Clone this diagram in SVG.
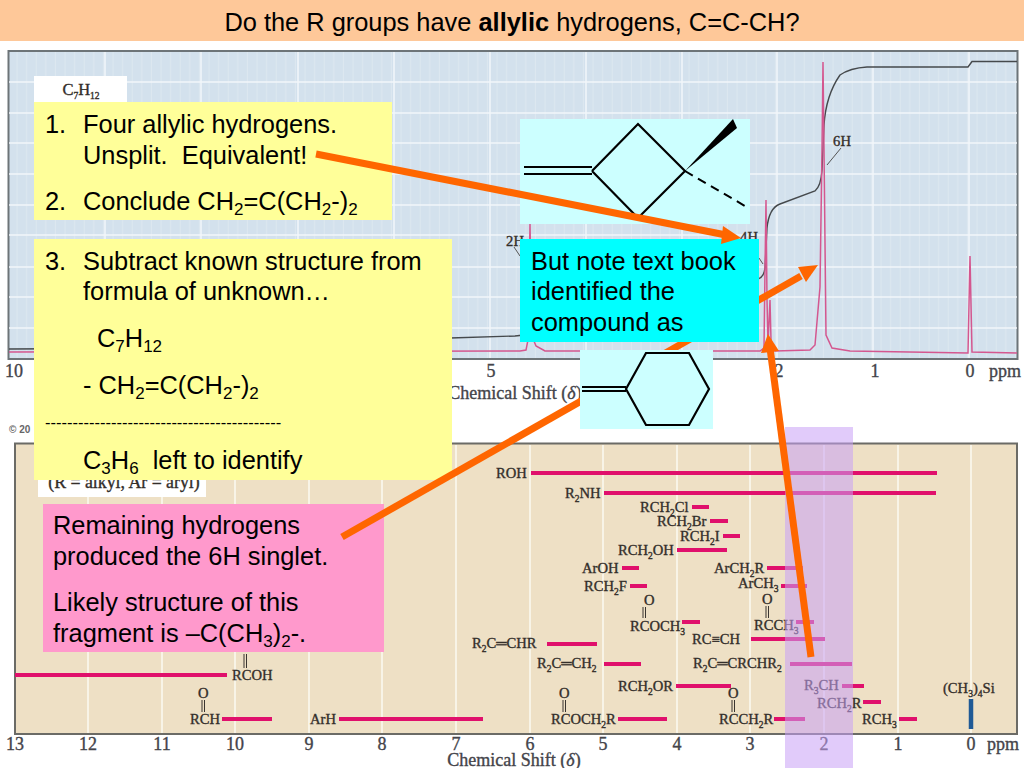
<svg xmlns="http://www.w3.org/2000/svg" width="1024" height="768" viewBox="0 0 1024 768">
<defs>
<style>
.n{font-family:"Liberation Sans",Arial,sans-serif;font-size:25.4px;fill:#000}
.n tspan.b{font-size:17px}
.s{font-family:"Liberation Serif","Times New Roman",serif;font-size:14.6px;fill:#332e2a;stroke:#332e2a;stroke-width:.35}
.s tspan.b{font-size:9.5px}
.ax{font-family:"Liberation Serif","Times New Roman",serif;font-size:18px;fill:#44444a;stroke:#44444a;stroke-width:.35}
.bar{stroke:#e0106c;stroke-width:4;fill:none}
.gl{stroke:#fbfaf2;stroke-width:1.5}
.gt{stroke:#f2f6fa;stroke-width:1.5}
.arrow{stroke:#ff6600;stroke-width:7;fill:none}
.head{fill:#ff6600}
.mol{stroke:#000;stroke-width:2.2;fill:none}
.dbl{stroke:#3a3530;fill:none}
</style>
<pattern id="minor" width="9.6" height="400" patternUnits="userSpaceOnUse" x="8">
<rect width="9.6" height="400" fill="#d3e1ed"/>
<line x1="9" y1="0" x2="9" y2="400" stroke="#dde8f1" stroke-width="1"/>
</pattern>
</defs>
<rect width="1024" height="768" fill="#fff"/>
<g id="title">
<rect x="0" y="0" width="1024" height="41" fill="#fec899"/>
<text x="512" y="31" text-anchor="middle" font-family="Liberation Sans,Arial,sans-serif" font-size="25.400" fill="#000">Do the R groups have <tspan font-weight="bold">allylic</tspan> hydrogens, C=C-CH?</text>
</g>
<g id="spectrum-top">
<rect x="8.500" y="51" width="1009" height="308" fill="url(#minor)" stroke="#6d7478" stroke-width="2"/>
<path class="gt" d="M105 52V358M201 52V358M298 52V358M394 52V358M490 52V358M586 52V358M682 52V358M777 52V358M873 52V358M969 52V358M9 82H1017M9 113H1017M9 143H1017M9 174H1017M9 205H1017M9 235H1017M9 267H1017M9 297H1017M9 328H1017"/>
<path d="M9 349 L200 348 L450 338 L515 336 L524 335 L530 326 L540 322 L600 318 L758 279 Q764 277 765 268 L767 228 Q769 208 780 204 L815 191 Q821 186 822 170 L824 125 Q826 95 840 75 Q850 68 867 67 L968 67 L972 61.500 L1017 61.500" fill="none" stroke="#45494c" stroke-width="1.400"/>
<path d="M9 352 L520 351 L526 350 L528 340 L530 224 L532 336 L536 346 L545 351 L760 351 L764 348 L765 270 L766 200 L767 300 L768 345 L770 300 L771 340 L775 351 L810 350 L815 345 L820 287 L822 150 L823 62 L824 150 L826 335 L832 348 L850 351 L968 353 L970 256 L972 352 L1017 353" fill="none" stroke="#d4578f" stroke-width="1.500"/>
<text class="ax" x="14" y="377" text-anchor="middle">10</text>
<text class="ax" x="491" y="377" text-anchor="middle">5</text>
<text class="ax" x="779" y="377" text-anchor="middle">2</text>
<text class="ax" x="875" y="377" text-anchor="middle">1</text>
<text class="ax" x="970" y="377" text-anchor="middle">0</text>
<text class="ax" x="1005" y="377" text-anchor="middle">ppm</text>
<text class="ax" x="515" y="399" text-anchor="middle">Chemical Shift (<tspan font-style="italic">δ</tspan>)</text>
<text class="s" x="515" y="246" text-anchor="middle">2H</text>
<text class="s" x="749" y="242" text-anchor="middle">4H</text>
<text class="s" x="842" y="146" text-anchor="middle">6H</text>
<path d="M514 247L520 256M759 258L763 264M827 165L841 148" stroke="#555" stroke-width="1" fill="none"/>
<rect x="34" y="76" width="93" height="30" fill="#fff"/>
<text class="s" x="81" y="95" text-anchor="middle" style="font-size:16.500px">C<tspan dy="4" class="b">7</tspan><tspan dy="-4">H</tspan><tspan dy="4" class="b">12</tspan></text>
<text x="9" y="433" font-family="Liberation Sans,Arial,sans-serif" font-size="10" font-weight="bold" fill="#666">© 20</text>
</g>
<g id="chart-bottom">
<rect x="15" y="443.500" width="1002" height="290.500" fill="#eee0c5" stroke="#6b6b66" stroke-width="2"/>
<path class="gl" d="M88 445V733M162 445V733M235 445V733M309 445V733M382 445V733M456 445V733M530 445V733M603 445V733M677 445V733M750 445V733M824 445V733M898 445V733M971 445V733"/>
<rect x="38" y="470" width="168" height="27" fill="#fff"/>
<text class="s" x="124" y="488" text-anchor="middle" style="font-size:17.800px">(R = alkyl, Ar = aryl)</text>
<g class="bars">
<path class="bar" d="M531 473H937M604 493H936M692 507H709M710 521H728M723 536H740M677 550H727M622 568H639M767 568H803M630 586H647M781 586H807M682 622H700M796 622H814M751 639H825M547 644H597M604 664H641M790 664H852M676 686H731M842 686H864M863 702H881M618 719H667M774 719H805M899 719H917M222 719H272M339 719H483M15 675H227"/>
<path d="M971 699V729" stroke="#1f5a96" stroke-width="4.500"/>
</g>
<g class="labels">
<text class="s" x="496" y="478">ROH</text>
<text class="s" x="565" y="498">R<tspan dy="4" class="b">2</tspan><tspan dy="-4">NH</tspan></text>
<text class="s" x="640" y="512">RCH<tspan dy="4" class="b">2</tspan><tspan dy="-4">Cl</tspan></text>
<text class="s" x="657" y="526">RCH<tspan dy="4" class="b">2</tspan><tspan dy="-4">Br</tspan></text>
<text class="s" x="680" y="541">RCH<tspan dy="4" class="b">2</tspan><tspan dy="-4">I</tspan></text>
<text class="s" x="618" y="555">RCH<tspan dy="4" class="b">2</tspan><tspan dy="-4">OH</tspan></text>
<text class="s" x="582" y="573">ArOH</text>
<text class="s" x="714" y="573">ArCH<tspan dy="4" class="b">2</tspan><tspan dy="-4">R</tspan></text>
<text class="s" x="584" y="591">RCH<tspan dy="4" class="b">2</tspan><tspan dy="-4">F</tspan></text>
<text class="s" x="738" y="588">ArCH<tspan dy="4" class="b">3</tspan></text>
<text class="s" x="644" y="605">O</text>
<path class="dbl" d="M643 607V618M645.500 607V618"/>
<text class="s" x="630" y="631">RCOCH<tspan dy="4" class="b">3</tspan></text>
<text class="s" x="762" y="604">O</text>
<path class="dbl" d="M766 606V618M768.500 606V618"/>
<text class="s" x="754" y="630">RCCH<tspan dy="4" class="b">3</tspan></text>
<text class="s" x="692" y="644">RC≡CH</text>
<text class="s" x="472" y="648">R<tspan dy="4" class="b">2</tspan><tspan dy="-4">C═CHR</tspan></text>
<text class="s" x="537" y="668">R<tspan dy="4" class="b">2</tspan><tspan dy="-4">C═CH</tspan><tspan dy="4" class="b">2</tspan></text>
<text class="s" x="693" y="668">R<tspan dy="4" class="b">2</tspan><tspan dy="-4">C═CRCHR</tspan><tspan dy="4" class="b">2</tspan></text>
<text class="s" x="618" y="691">RCH<tspan dy="4" class="b">2</tspan><tspan dy="-4">OR</tspan></text>
<text class="s" x="804" y="690">R<tspan dy="4" class="b">3</tspan><tspan dy="-4">CH</tspan></text>
<text class="s" x="817" y="708">RCH<tspan dy="4" class="b">2</tspan><tspan dy="-4">R</tspan></text>
<text class="s" x="943" y="693">(CH<tspan dy="4" class="b">3</tspan><tspan dy="-4">)</tspan><tspan dy="4" class="b">4</tspan><tspan dy="-4">Si</tspan></text>
<text class="s" x="862" y="724">RCH<tspan dy="4" class="b">3</tspan></text>
<text class="s" x="551" y="724">RCOCH<tspan dy="4" class="b">2</tspan><tspan dy="-4">R</tspan></text>
<text class="s" x="719" y="724">RCCH<tspan dy="4" class="b">2</tspan><tspan dy="-4">R</tspan></text>
<text class="s" x="559" y="698">O</text>
<path class="dbl" d="M563 700V712M565.500 700V712"/>
<text class="s" x="728" y="698">O</text>
<path class="dbl" d="M732 700V712M734.500 700V712"/>
<text class="s" x="190" y="724">RCH</text>
<text class="s" x="198" y="698">O</text>
<path class="dbl" d="M202 700V712M204.500 700V712"/>
<text class="s" x="310" y="724">ArH</text>
<text class="s" x="232" y="680">RCOH</text>
<path class="dbl" d="M244 654V668M246.500 654V668"/>
</g>
<text class="ax" x="15" y="750" text-anchor="middle">13</text>
<text class="ax" x="88" y="750" text-anchor="middle">12</text>
<text class="ax" x="162" y="750" text-anchor="middle">11</text>
<text class="ax" x="235" y="750" text-anchor="middle">10</text>
<text class="ax" x="309" y="750" text-anchor="middle">9</text>
<text class="ax" x="382" y="750" text-anchor="middle">8</text>
<text class="ax" x="456" y="750" text-anchor="middle">7</text>
<text class="ax" x="530" y="750" text-anchor="middle">6</text>
<text class="ax" x="603" y="750" text-anchor="middle">5</text>
<text class="ax" x="677" y="750" text-anchor="middle">4</text>
<text class="ax" x="750" y="750" text-anchor="middle">3</text>
<text class="ax" x="824" y="750" text-anchor="middle">2</text>
<text class="ax" x="898" y="750" text-anchor="middle">1</text>
<text class="ax" x="971" y="750" text-anchor="middle">0</text>
<text class="ax" x="1003" y="750" text-anchor="middle">ppm</text>
<text class="ax" x="514" y="766" text-anchor="middle">Chemical Shift (<tspan font-style="italic">δ</tspan>)</text>
</g>
<rect id="highlight" x="785" y="427" width="68" height="341" fill="#c9a0f5" fill-opacity="0.55"/>
<g id="box-1-2">
<rect x="34" y="102" width="358" height="118" fill="#ffff99"/>
<text class="n" x="45" y="133">1.</text>
<text class="n" x="83" y="133">Four allylic hydrogens.</text>
<text class="n" x="83" y="164" xml:space="preserve">Unsplit.  Equivalent!</text>
<text class="n" x="45" y="210">2.</text>
<text class="n" x="83" y="210">Conclude CH<tspan dy="5" class="b">2</tspan><tspan dy="-5">=C(CH</tspan><tspan dy="5" class="b">2</tspan><tspan dy="-5">-)</tspan><tspan dy="5" class="b">2</tspan></text>
</g>
<g id="box-3">
<rect x="34" y="239" width="418" height="241" fill="#ffff99"/>
<text class="n" x="45" y="270">3.</text>
<text class="n" x="83" y="270">Subtract known structure from</text>
<text class="n" x="83" y="300">formula of unknown…</text>
<text class="n" x="97" y="347">C<tspan dy="5" class="b">7</tspan><tspan dy="-5">H</tspan><tspan dy="5" class="b">12</tspan></text>
<text class="n" x="83" y="394">- CH<tspan dy="5" class="b">2</tspan><tspan dy="-5">=C(CH</tspan><tspan dy="5" class="b">2</tspan><tspan dy="-5">-)</tspan><tspan dy="5" class="b">2</tspan></text>
<text x="45" y="428" font-family="Liberation Sans,Arial,sans-serif" font-size="16.500" fill="#000">-------------------------------------------</text>
<text class="n" x="83" y="469" xml:space="preserve">C<tspan dy="5" class="b">3</tspan><tspan dy="-5">H</tspan><tspan dy="5" class="b">6</tspan><tspan dy="-5">  left to identify</tspan></text>
</g>
<g id="box-remaining">
<rect x="43" y="504" width="341" height="148" fill="#ff99cc"/>
<text class="n" x="53" y="534">Remaining hydrogens</text>
<text class="n" x="53" y="565">produced the 6H singlet.</text>
<text class="n" x="53" y="611">Likely structure of this</text>
<text class="n" x="53" y="642">fragment is –C(CH<tspan dy="5" class="b">3</tspan><tspan dy="-5">)</tspan><tspan dy="5" class="b">2</tspan><tspan dy="-5">-.</tspan></text>
</g>
<g id="connectors">
<path class="arrow" d="M342 537L801 276"/>
<path class="head" d="M818 265L798 267L806 282Z"/>
<path class="arrow" d="M811 657L770 348"/>
<path class="head" d="M768 334L761 353L779 351Z"/>
</g>
<g id="mol-1">
<rect x="520" y="119" width="230" height="105" fill="#ccffff"/>
<path class="mol" d="M592 171L638 124L685 171L638 218L592 171M524 167H592M524 174H592"/>
<path d="M685 171L733 119L737 128Z" fill="#000"/>
<path d="M685 171L745 206" stroke="#000" stroke-width="2" stroke-dasharray="9 6" fill="none"/>
</g>
<g id="mol-2">
<rect x="580" y="350" width="133" height="79" fill="#ccffff"/>
<path class="mol" d="M626 389L646 353H689L709 389L689 425H646Z M582 387H626M582 391H626"/>
</g>
<g id="box-but-note">
<rect x="520" y="239" width="239" height="103" fill="#00ffff"/>
<text class="n" x="531" y="270">But note text book</text>
<text class="n" x="531" y="300">identified the</text>
<text class="n" x="531" y="331">compound as</text>
</g>
<g id="connector-top">
<path class="arrow" d="M316 154L726 235"/>
<path class="head" d="M741 238L723 226L721 244Z"/>
</g>
</svg>
